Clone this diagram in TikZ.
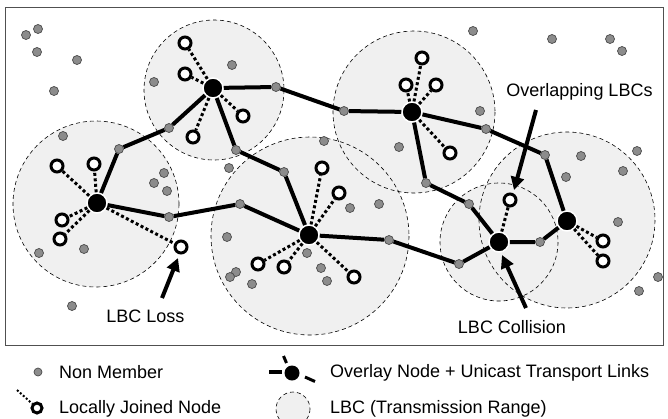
\documentclass[tikz,border=0pt]{standalone}
\usepackage{fontspec}
\setmainfont{Liberation Sans}
\usetikzlibrary{arrows.meta}
\definecolor{lbcfill}{HTML}{F0F0F0}
\definecolor{nmfill}{HTML}{8C8C8C}
\definecolor{nmdraw}{HTML}{4A4A4A}
\definecolor{framec}{HTML}{505050}
\begin{document}
\begin{tikzpicture}[x=1pt,y=-1pt,
 nm/.style={circle,fill=nmfill,draw=nmdraw,line width=0.7pt,inner sep=0pt,minimum size=9pt},
 lj/.style={circle,fill=white,draw=black,line width=3pt,inner sep=0pt,minimum size=12pt},
 ov/.style={circle,fill=black,draw=white,line width=1.5pt,inner sep=0pt,minimum size=20pt},
 link/.style={line width=4pt},
 jn/.style={line width=3pt,dash pattern=on 3pt off 2.5pt},
 lbc/.style={fill=lbcfill},
 lbcline/.style={draw=black,line width=0.6pt,dash pattern=on 4pt off 3pt},
 lbl/.style={font=\fontsize{18}{20}\selectfont,inner sep=0pt},
 arr/.style={line width=4pt,-{Triangle[length=13pt,width=13pt]}},
]
\useasboundingbox (0,0) rectangle (668,418);
\draw[framec,line width=1pt] (5,7) rectangle (663,345);
% LBC ranges
\foreach \x/\y/\r in {214/90/70, 414/112/81, 310/236/99, 96/204/83, 567/220/88, 499/242/59}
  \fill[lbc] (\x,\y) circle[radius=\r];
\foreach \x/\y/\r in {214/90/70, 414/112/81, 310/236/99, 96/204/83, 567/220/88, 499/242/59}
  \draw[lbcline] (\x,\y) circle[radius=\r];
% non members
\foreach \x/\y [count=\i] in {26/35, 38/29, 37/52, 77/60, 54/91, 154/82, 63/136,
  232/65, 324/141, 229/168, 399/147,
  473/31, 552/39, 610/39, 622/51, 480/111, 581/156, 637/151, 623/171, 566/177, 618/222, 658/277, 639/291,
  154/183, 164/173, 167/191, 39/253, 84/249, 72/306,
  350/208, 379/204, 227/237, 236/272, 230/277, 252/284, 307/253, 321/268, 327/281}
  \node[nm] (n\i) at (\x,\y) {};
% overlay nodes
\node[ov] (A) at (213,88) {};
\node[ov] (B) at (412,112) {};
\node[ov] (C) at (309,235) {};
\node[ov] (D) at (97,203) {};
\node[ov] (E) at (567,221) {};
\node[ov] (F) at (499,242) {};
% relay nodes
\foreach \n/\x/\y in {g1/276/87, g2/344/111, g3/236/150, g4/284/172, g5/169/128, g6/119/149,
  g7/169/217, g8/240/204, g9/389/240, g10/459/264, g11/486/129, g12/545/155,
  g13/426/183, g14/469/204, g15/540/242}
  \node[nm] (\n) at (\x,\y) {};
% locally joined nodes
\foreach \n/\x/\y in {a1/185/43, a2/185/74, a3/193/137, a4/243/116,
  b1/422/58, b2/406/85, b3/436/85, b4/450/153,
  c1/322/168, c2/339/193, c3/258/264, c4/284/267, c5/354/277,
  d1/57/166, d2/94/164, d3/62/220, d4/60/239, d5/181/247,
  e1/603/241, e2/603/261, f1/510/200}
  \node[lj] (\n) at (\x,\y) {};
% unicast links
\draw[link] (A) -- (g1) -- (g2) -- (B);
\draw[link] (A) -- (g3) -- (g4) -- (C);
\draw[link] (A) -- (g5) -- (g6) -- (D);
\draw[link] (D) -- (g7) -- (g8) -- (C);
\draw[link] (C) -- (g9) -- (g10) -- (F);
\draw[link] (B) -- (g11) -- (g12) -- (E);
\draw[link] (B) -- (g13) -- (g14) -- (F);
\draw[link] (F) -- (g15) -- (E);
% local joins
\foreach \o/\m in {A/a1, A/a2, A/a3, A/a4, B/b1, B/b2, B/b3, B/b4,
  C/c1, C/c2, C/c3, C/c4, C/c5, D/d1, D/d2, D/d3, D/d4, D/d5, E/e1, E/e2, F/f1}
  \draw[jn] (\o) -- (\m);
% annotations
\node[lbl,anchor=base] (tOv) at (579.5,96) {Overlapping LBCs};
\node[lbl,anchor=base] (tLoss) at (145.5,322) {LBC Loss};
\node[lbl,anchor=base] (tCol) at (512,333) {LBC Collision};
\coordinate (ovT) at (536,110); \coordinate (ovH) at (514,190);
\coordinate (lossT) at (162,298); \coordinate (lossH) at (178,258);
\coordinate (colT) at (526,308); \coordinate (colH) at (502,255);
\draw[arr] (ovT) -- (ovH);
\draw[arr] (lossT) -- (lossH);
\draw[arr] (colT) -- (colH);
% legend
\node[nm,minimum size=8pt] (lgNm) at (38,372) {};
\node[lbl,anchor=base west] (lgNmT) at (59,378) {Non Member};
\node[lj,minimum size=10pt] (lgLj) at (37,408) {};
\coordinate (lgLjS) at (17,390);
\draw[line width=2pt,dash pattern=on 2pt off 2pt] (lgLjS) -- (lgLj);
\node[lbl,anchor=base west] (lgLjT) at (59,413) {Locally Joined Node};
\node[circle,fill=black,inner sep=0pt,minimum size=15pt] (lgOv) at (292,373) {};
\coordinate (lgL1) at (269,372); \coordinate (lgL2) at (282,372);
\coordinate (lgU1) at (283.5,356); \coordinate (lgU2) at (286.5,363);
\coordinate (lgR1) at (305,377); \coordinate (lgR2) at (315,381.5);
\draw[line width=3.5pt] (lgL1) -- (lgL2);
\draw[line width=3pt] (lgU1) -- (lgU2);
\draw[line width=3pt] (lgR1) -- (lgR2);
\node[lbl,anchor=base west] (lgOvT) at (330,377) {Overlay Node + Unicast Transport Links};
\fill[lbc] (293,409) circle[radius=17];
\draw[lbcline] (293,409) circle[radius=17];
\node[lbl,anchor=base west] (lgLbcT) at (330,413) {LBC (Transmission Range)};
\end{tikzpicture}
\end{document}
